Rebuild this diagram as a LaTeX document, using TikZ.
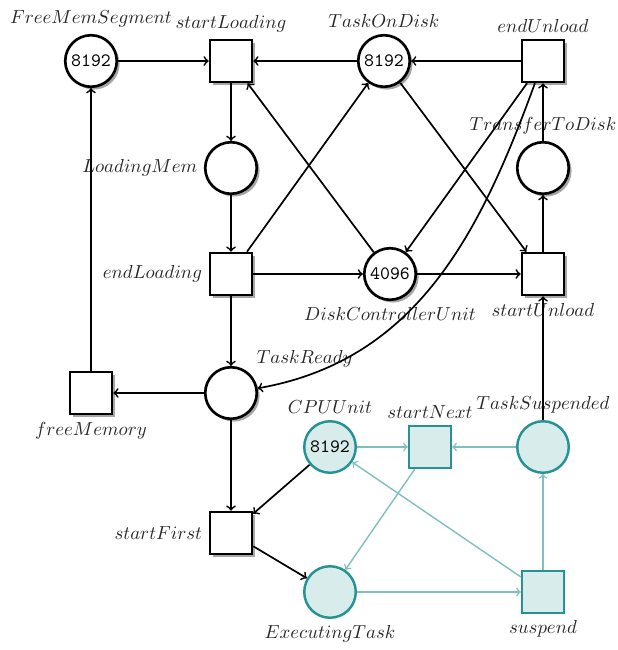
\documentclass[tikz,border=0pt]{standalone}
\usetikzlibrary{shadows}
\colorlet{tealB}{teal!85}
\colorlet{tealF}{teal!15}
\colorlet{tealA}{teal!50}
\begin{document}
\begin{tikzpicture}[x=0.53pt,y=0.53pt,
  every label/.style={font=\normalfont, text=black!85},
  place/.style={circle, draw=black, line width=1.4pt, fill=white, minimum size=27.3pt, inner sep=0pt, font=\ttfamily,
    drop shadow={shadow xshift=1.5pt, shadow yshift=-1.5pt, opacity=0.35, fill=black}},
  trans/.style={rectangle, draw=black, line width=1.4pt, fill=white, minimum size=22.2pt, inner sep=0pt,
    drop shadow={shadow xshift=1.5pt, shadow yshift=-1.5pt, opacity=0.35, fill=black}},
  tplace/.style={circle, draw=tealB, line width=1.3pt, fill=tealF, minimum size=27.3pt, inner sep=0pt, font=\ttfamily},
  ttrans/.style={rectangle, draw=tealB, line width=1.3pt, fill=tealF, minimum size=22.2pt, inner sep=0pt},
  arc/.style={->, line width=0.9pt, black},
  tarc/.style={->, line width=0.75pt, tealA}]
\useasboundingbox (0,0) rectangle (617,-650);
\node[place, label=above:$FreeMemSegment$] (fms) at (91,-61) {8192};
\node[trans, label=above:$startLoading$] (sl) at (231,-61) {};
\node[place, label=above:$TaskOnDisk$] (tod) at (384,-61) {8192};
\node[trans, label=above:$endUnload$] (eu) at (543,-61) {};
\node[place, label=left:$LoadingMem$] (lm) at (231,-168) {};
\node[place, label=above:$TransferToDisk$] (ttd) at (543,-168) {};
\node[trans, label=left:$endLoading$] (el) at (231,-274) {};
\node[place, label=below:$DiskControllerUnit$] (dcu) at (390,-274) {4096};
\node[trans, label=below:$startUnload$] (su) at (543,-274) {};
\node[trans, label=below:$freeMemory$] (fm) at (91,-393) {};
\node[place, label=above right:$TaskReady$] (tr) at (231,-393) {};
\node[tplace, label=above:$CPUUnit$] (cpu) at (330,-447) {8192};
\node[ttrans, label=above:$startNext$] (sn) at (430,-447) {};
\node[tplace, label=above:$TaskSuspended$] (ts) at (543,-447) {};
\node[trans, label=left:$startFirst$] (sf) at (231,-533) {};
\node[tplace, label=below:$ExecutingTask$] (et) at (330,-592) {};
\node[ttrans, label=below:$suspend$] (sp) at (543,-592) {};

\draw[arc] (fms) -- (sl);
\draw[arc] (tod) -- (sl);
\draw[arc] (eu) -- (tod);
\draw[arc] (sl) -- (lm);
\draw[arc] (lm) -- (el);
\draw[arc] (el) -- (tod);
\draw[arc] (dcu) -- (sl);
\draw[arc] (el) -- (dcu);
\draw[arc] (tod) -- (su);
\draw[arc] (eu) -- (dcu);
\draw[arc] (dcu) -- (su);
\draw[arc] (su) -- (ttd);
\draw[arc] (ttd) -- (eu);
\draw[arc] (eu) to[out=-110,in=10] (tr);
\draw[arc] (el) -- (tr);
\draw[arc] (tr) -- (fm);
\draw[arc] (fm) -- (fms);
\draw[arc] (tr) -- (sf);
\draw[arc] (cpu) -- (sf);
\draw[arc] (sf) -- (et);
\draw[arc] (ts) -- (su);
\draw[tarc] (cpu) -- (sn);
\draw[tarc] (ts) -- (sn);
\draw[tarc] (sn) -- (et);
\draw[tarc] (et) -- (sp);
\draw[tarc] (sp) -- (ts);
\draw[tarc] (sp) -- (cpu);
\end{tikzpicture}
\end{document}
